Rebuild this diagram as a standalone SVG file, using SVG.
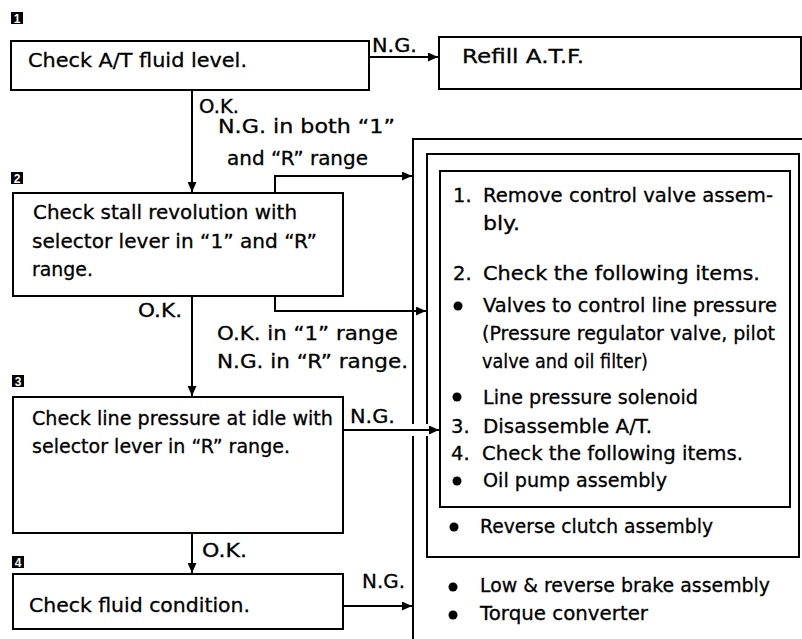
<svg xmlns="http://www.w3.org/2000/svg" width="802" height="639" viewBox="0 0 802 639">
<style>
text{font-family:"DejaVu Sans","Liberation Sans",sans-serif;font-size:19.5px;fill:#000;stroke:#000;stroke-width:0.3}
.box{fill:#fff;stroke:#000;stroke-width:2}
.ln{fill:none;stroke:#000;stroke-width:2}
.badge{fill:#000}
.bt{font-family:"Liberation Sans",sans-serif;font-size:12px;font-weight:bold;fill:#fff;stroke:none;text-anchor:middle}
.lbl{font-size:19px}
</style>
<defs>
<marker id="ah" markerUnits="userSpaceOnUse" markerWidth="11" markerHeight="9" refX="10" refY="4.5" orient="auto">
<path d="M0,0 L10,4.5 L0,9 z" fill="#000"/>
</marker>
</defs>
<rect width="802" height="639" fill="#fff"/>

<g id="frames">
<path class="ln" d="M802,139 H413 V424 M413,436 V639"/>
<path class="ln" d="M427,424 V154 H799 V557 H427 V436"/>
</g>

<g id="connectors">
<path class="ln" d="M369,57 H438" marker-end="url(#ah)"/>
<path class="ln" d="M192,90 V192" marker-end="url(#ah)"/>
<path class="ln" d="M275,193 V176 H412" marker-end="url(#ah)"/>
<path class="ln" d="M275,296 V311 H426" marker-end="url(#ah)"/>
<path class="ln" d="M192,296 V396" marker-end="url(#ah)"/>
<path class="ln" d="M343,430 H439" marker-end="url(#ah)"/>
<path class="ln" d="M192,533 V573" marker-end="url(#ah)"/>
<path class="ln" d="M343,606 H412" marker-end="url(#ah)"/>
<text class="lbl" x="372" y="52" textLength="45" lengthAdjust="spacingAndGlyphs">N.G.</text>
<text class="lbl" x="199" y="113" textLength="40" lengthAdjust="spacingAndGlyphs">O.K.</text>
<text class="lbl" x="218" y="133" textLength="177" lengthAdjust="spacingAndGlyphs">N.G. in both “1”</text>
<text class="lbl" x="227" y="165" textLength="141" lengthAdjust="spacingAndGlyphs">and “R” range</text>
<text class="lbl" x="138" y="317" textLength="44" lengthAdjust="spacingAndGlyphs">O.K.</text>
<text class="lbl" x="217" y="340" textLength="181" lengthAdjust="spacingAndGlyphs">O.K. in “1” range</text>
<text class="lbl" x="217" y="368" textLength="191" lengthAdjust="spacingAndGlyphs">N.G. in “R” range.</text>
<text class="lbl" x="350" y="423" textLength="45" lengthAdjust="spacingAndGlyphs">N.G.</text>
<text class="lbl" x="202" y="557" textLength="45" lengthAdjust="spacingAndGlyphs">O.K.</text>
<text class="lbl" x="362" y="588" textLength="43" lengthAdjust="spacingAndGlyphs">N.G.</text>
</g>

<g id="step1">
<rect class="badge" x="11" y="12" width="12" height="12"/>
<text class="bt" x="17" y="22.5">1</text>
<rect class="box" x="11" y="41" width="358" height="49"/>
<text x="28" y="67" textLength="219" lengthAdjust="spacingAndGlyphs">Check A/T fluid level.</text>
</g>

<g id="refill">
<rect class="box" x="439" y="37" width="362" height="52"/>
<text x="462" y="63" textLength="122" lengthAdjust="spacingAndGlyphs">Refill A.T.F.</text>
</g>

<g id="step2">
<rect class="badge" x="11" y="172" width="12" height="12"/>
<text class="bt" x="17" y="182.5">2</text>
<rect class="box" x="13" y="193" width="330" height="103"/>
<text x="33" y="219" textLength="264" lengthAdjust="spacingAndGlyphs">Check stall revolution with</text>
<text x="32" y="248" textLength="285" lengthAdjust="spacingAndGlyphs">selector lever in “1” and “R”</text>
<text x="32" y="276" textLength="61" lengthAdjust="spacingAndGlyphs">range.</text>
</g>

<g id="step3">
<rect class="badge" x="12" y="375" width="12" height="12"/>
<text class="bt" x="18" y="385.5">3</text>
<rect class="box" x="13" y="397" width="330" height="136"/>
<text x="32" y="425" textLength="301" lengthAdjust="spacingAndGlyphs">Check line pressure at idle with</text>
<text x="32" y="453" textLength="258" lengthAdjust="spacingAndGlyphs">selector lever in “R” range.</text>
</g>

<g id="step4">
<rect class="badge" x="12" y="556" width="12" height="12"/>
<text class="bt" x="18" y="566.5">4</text>
<rect class="box" x="13" y="574" width="330" height="55"/>
<text x="29" y="612" textLength="221" lengthAdjust="spacingAndGlyphs">Check fluid condition.</text>
</g>

<g id="repair">
<rect class="box" x="440" y="171" width="350" height="336"/>
<text x="453" y="202">1.</text>
<text x="483" y="202" textLength="290" lengthAdjust="spacingAndGlyphs">Remove control valve assem-</text>
<text x="483" y="230" textLength="37" lengthAdjust="spacingAndGlyphs">bly.</text>
<text x="453" y="280">2.</text>
<text x="483" y="280" textLength="277" lengthAdjust="spacingAndGlyphs">Check the following items.</text>
<circle cx="458" cy="306" r="4.5"/>
<text x="483" y="312" textLength="294" lengthAdjust="spacingAndGlyphs">Valves to control line pressure</text>
<text x="482" y="340" textLength="293" lengthAdjust="spacingAndGlyphs">(Pressure regulator valve, pilot</text>
<text x="482" y="368" textLength="166" lengthAdjust="spacingAndGlyphs">valve and oil filter)</text>
<circle cx="457" cy="397" r="4.5"/>
<text x="483" y="404" textLength="215" lengthAdjust="spacingAndGlyphs">Line pressure solenoid</text>
<text x="451" y="433">3.</text>
<text x="483" y="433" textLength="169" lengthAdjust="spacingAndGlyphs">Disassemble A/T.</text>
<text x="451" y="460">4.</text>
<text x="482" y="460" textLength="261" lengthAdjust="spacingAndGlyphs">Check the following items.</text>
<circle cx="457" cy="481" r="4.5"/>
<text x="483" y="487" textLength="184" lengthAdjust="spacingAndGlyphs">Oil pump assembly</text>
<circle cx="454" cy="527" r="4.5"/>
<text x="480" y="533" textLength="233" lengthAdjust="spacingAndGlyphs">Reverse clutch assembly</text>
<circle cx="453" cy="587" r="4.5"/>
<text x="480" y="592" textLength="290" lengthAdjust="spacingAndGlyphs">Low &amp; reverse brake assembly</text>
<circle cx="453" cy="615" r="4.5"/>
<text x="480" y="620" textLength="168" lengthAdjust="spacingAndGlyphs">Torque converter</text>
</g>
</svg>
